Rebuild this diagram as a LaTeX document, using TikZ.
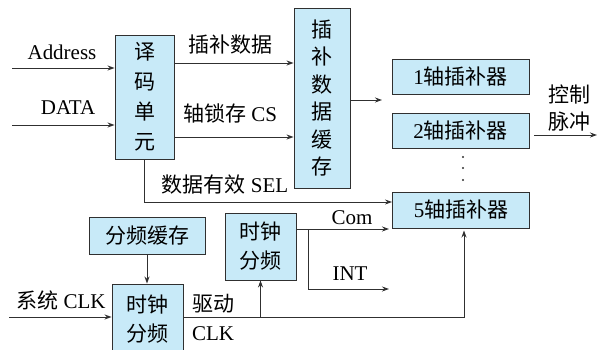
\documentclass[tikz,border=0pt]{standalone}
\usepackage{fontspec}
\setmainfont{Liberation Serif}
\newfontfamily\cjk{Noto Sans CJK SC}
\usetikzlibrary{arrows.meta}

\definecolor{boxblue}{HTML}{C8EAF8}
\definecolor{edge}{HTML}{303030}

\tikzset{
	blk/.style={draw=edge, fill=boxblue, line width=0.9pt, inner sep=0pt, align=center,
		font=\cjk\fontsize{21}{28}\selectfont},
	arr/.style={-{Stealth[length=7pt,width=5pt]}, line width=0.9pt, draw=edge},
	wire/.style={line width=0.9pt, draw=edge},
	lbl/.style={inner sep=0pt, font=\fontsize{21}{25}\selectfont}
}

\begin{document}
\begin{tikzpicture}[x=1pt,y=-1pt]
	\useasboundingbox (0,0) rectangle (597,350);

	% Blocks
	\node[blk, minimum width=59pt, minimum height=124pt, font=\cjk\fontsize{21}{30}\selectfont] (dec) at (144.5,97) {译\\码\\单\\元};
	\node[blk, minimum width=56pt, minimum height=180pt, font=\cjk\fontsize{21}{27.5}\selectfont] (buf) at (322,98) {插\\补\\数\\据\\缓\\存};
	\node[blk, minimum width=137pt, minimum height=35pt] (ax1) at (460.5,76.5) {{\rmfamily 1}轴插补器};
	\node[blk, minimum width=137pt, minimum height=35pt] (ax2) at (460.5,130.5) {{\rmfamily 2}轴插补器};
	\node[blk, minimum width=137pt, minimum height=36pt] (ax5) at (461,210) {{\rmfamily 5}轴插补器};
	\node[blk, minimum width=116pt, minimum height=37pt] (fbuf) at (147,235.5) {分频缓存};
	\node[blk, minimum width=71pt, minimum height=70pt, font=\cjk\fontsize{21}{29}\selectfont] (clkA) at (147.5,319) {时钟\\分频};
	\node[blk, minimum width=71pt, minimum height=67pt, font=\cjk\fontsize{21}{29}\selectfont] (clkB) at (260.5,246.5) {时钟\\分频};

	% Dots between axes
	\foreach \y in {157,168,180}
		\fill[edge] (463,\y) circle (1.2pt);

	% Inputs of decoder
	\coordinate (addrIn) at (12,68);
	\coordinate (dataIn) at (12,125);
	\draw[arr] (addrIn) -- (addrIn -| dec.west);
	\draw[arr] (dataIn) -- (dataIn -| dec.west);
	\node[lbl] (addrL) at (62,52) {Address};
	\node[lbl] (dataL) at (68,108) {DATA};

	% Decoder to buffer
	\coordinate (dOut1) at (dec.east |- 0,63);
	\coordinate (dOut2) at (dec.east |- 0,137);
	\draw[arr] (dOut1) -- (dOut1 -| buf.west);
	\draw[arr] (dOut2) -- (dOut2 -| buf.west);
	\node[lbl, font=\cjk\fontsize{21}{25}\selectfont] (dataTxt) at (230,45) {插补数据};
	\node[lbl] (csTxt) at (230,113) {{\cjk 轴锁存} CS};

	% Data valid line
	\coordinate (selC) at (dec.south |- 0,202);
	\draw[arr] (dec.south) -- (selC) -- (selC -| ax5.west);
	\node[lbl] (selTxt) at (225,185) {{\cjk 数据有效} SEL};

	% Buffer output
	\coordinate (bufEnd) at (382,100);
	\draw[arr] (buf.east |- bufEnd) -- (bufEnd);

	% Control pulse
	\coordinate (pStart) at (534,135);
	\coordinate (pEnd) at (597,135);
	\draw[arr] (pStart) -- (pEnd);
	\node[lbl, align=center, font=\cjk\fontsize{21}{27}\selectfont] (pulseTxt) at (569,108.5) {控制\\脉冲};

	% Clock section
	\draw[arr] (fbuf.south) -- (fbuf.south |- clkA.north);
	\coordinate (sysIn) at (9,317);
	\draw[arr] (sysIn) -- (sysIn -| clkA.west);
	\node[lbl] (sysTxt) at (61,300) {{\cjk 系统} CLK};

	\coordinate (drvC) at (464,317);
	\draw[arr] (clkA.east |- drvC) -- (drvC) -- (464,230.5);
	\draw[arr] (clkB.south |- drvC) -- (clkB.south);
	\node[lbl, font=\cjk\fontsize{21}{25}\selectfont] (drvTxt) at (213,304) {驱动};
	\node[lbl] (clkTxt) at (213,334) {CLK};

	% Com and INT
	\coordinate (comEnd) at (389,229);
	\coordinate (intEnd) at (389,289);
	\draw[arr] (clkB.east |- comEnd) -- (comEnd);
	\draw[arr] (308,229) -- (308,289) -- (intEnd);
	\node[lbl] (comTxt) at (352,218) {Com};
	\node[lbl] (intTxt) at (350,274) {INT};
\end{tikzpicture}
\end{document}
